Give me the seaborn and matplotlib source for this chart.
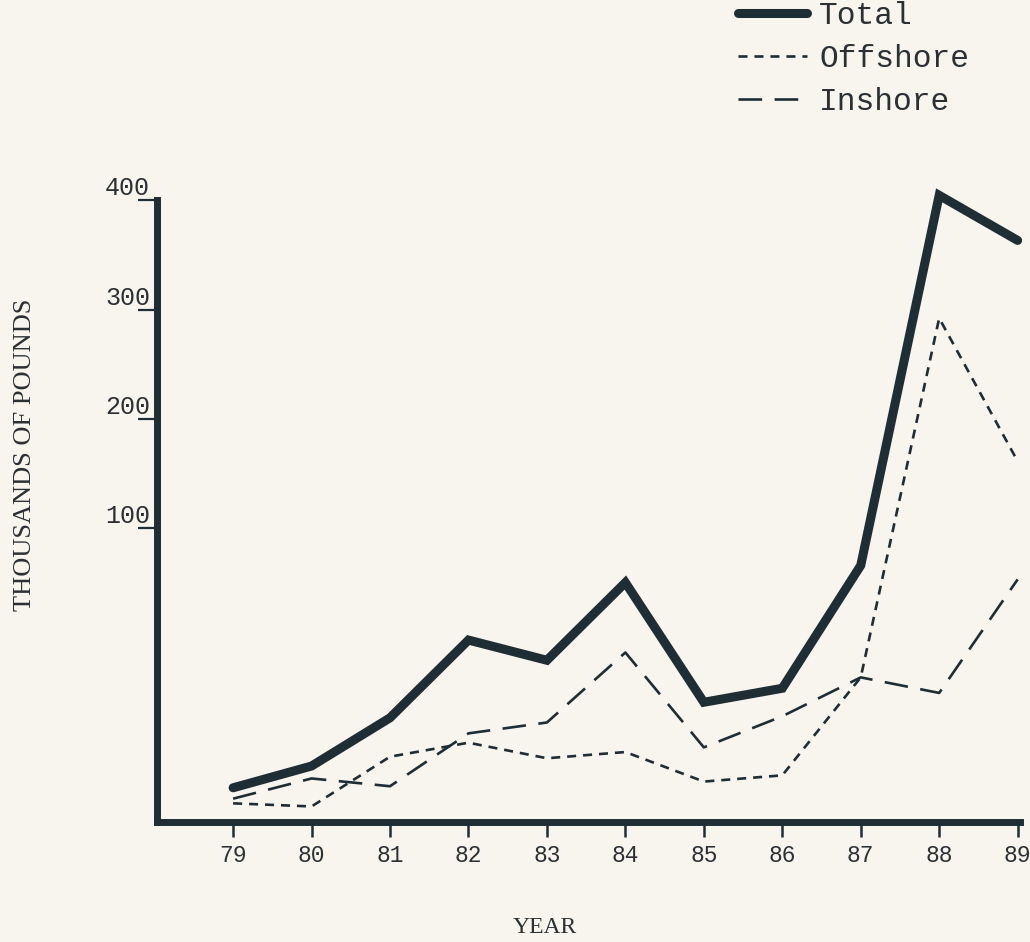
import pandas as pd
import matplotlib.pyplot as plt
import seaborn as sns

# values (thousands of pounds)
years = [79, 80, 81, 82, 83, 84, 85, 86, 87, 88, 89]
total = [22, 36, 67, 117, 104, 154, 77, 86, 165, 403, 374]
offshore = [12, 10, 42, 51, 41, 45, 26, 30, 93, 324, 232]
inshore = [15, 28, 23, 57, 64, 109, 48, 68, 93, 83, 156]

# the typed tick labels do not sit on an even scale in the original
ytick_labels = ['100', '200', '300', '400']
ytick_pos = [189, 259, 329, 400]
xtick_labels = [str(y) for y in years]

ink = '#1f2d35'
paper = '#f8f4ee'
txt = '#2b3034'
mono = 'Liberation Mono'
serif = 'Liberation Serif'

sns.set_style('white')
plt.rcParams['lines.scale_dashes'] = False

fig = plt.figure(figsize=(10.30, 9.42), dpi=100, facecolor=paper)
ax = fig.add_axes([157/1030, 120/942, 863/1030, 622/942], facecolor=paper)

df = pd.DataFrame({'year': years, 'Total': total, 'Offshore': offshore, 'Inshore': inshore})

sns.lineplot(x='year', y='Total', data=df, ax=ax, color=ink, lw=6.5,
             label='Total', clip_on=False, solid_joinstyle='miter')
sns.lineplot(x='year', y='Offshore', data=df, ax=ax, color=ink, lw=1.9,
             linestyle=(0, (6.5, 5)), label='Offshore', clip_on=False)
sns.lineplot(x='year', y='Inshore', data=df, ax=ax, color=ink, lw=1.9,
             linestyle=(0, (17, 9)), label='Inshore', clip_on=False)

ax.set_xlim(78.03, 89.03)
ax.set_ylim(0, 400)

for side in ['top', 'right']:
    ax.spines[side].set_visible(False)
for side in ['left', 'bottom']:
    ax.spines[side].set_linewidth(5)
    ax.spines[side].set_color(ink)
    ax.spines[side].set_capstyle('projecting')

ax.set_yticks(ytick_pos)
ax.set_yticklabels(ytick_labels, family=mono, fontsize=18, color=txt, va='bottom')
ax.set_xticks(years)
ax.set_xticklabels(xtick_labels, family=mono, fontsize=16.5, color=txt)
ax.tick_params(axis='y', direction='out', length=14, width=1.6, color=ink, pad=-9, left=True)
ax.tick_params(axis='x', direction='out', length=11, width=1.8, color=ink, pad=5, bottom=True)

ax.set_xlabel('YEAR', family=serif, fontsize=17, color=txt)
ax.set_ylabel('THOUSANDS OF POUNDS', family=serif, fontsize=19, color=txt)
ax.xaxis.set_label_coords(0.449, -0.152)
ax.yaxis.set_label_coords(-0.14, 0.59)

ax.legend(loc='upper left', bbox_to_anchor=(738/1030, 1 - 1/942), bbox_transform=fig.transFigure,
          frameon=False, prop={'family': mono, 'size': 22.5}, handlelength=2.2,
          handletextpad=0.4, labelspacing=0.42, borderpad=0, borderaxespad=0,
          labelcolor=txt)

fig.savefig('out.png', dpi=100, facecolor=paper)
